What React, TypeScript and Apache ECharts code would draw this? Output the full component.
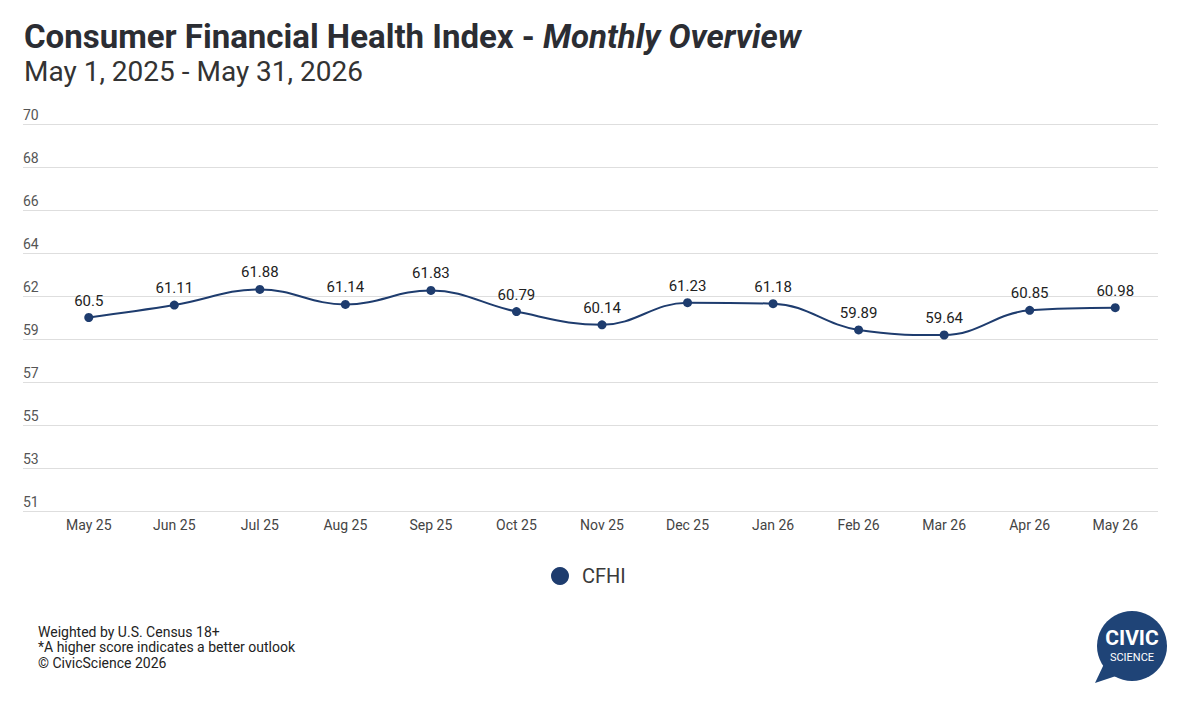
import React, { useEffect, useRef } from "react";
import * as echarts from "echarts";

const months = ["May 25", "Jun 25", "Jul 25", "Aug 25", "Sep 25", "Oct 25", "Nov 25", "Dec 25", "Jan 26", "Feb 26", "Mar 26", "Apr 26", "May 26"];
const cfhi = [60.5, 61.11, 61.88, 61.14, 61.83, 60.79, 60.14, 61.23, 61.18, 59.89, 59.64, 60.85, 60.98];
const yMin = 51;
const yMax = 70;
const yTickLabels = ["51", "53", "55", "57", "59", "62", "64", "66", "68", "70"];
const footnotes = ["Weighted by U.S. Census 18+", "*A higher score indicates a better outlook", "\u00A9 CivicScience 2026"];

const NAVY = "#1e3c6e";
const FONT = "Roboto";

export default function App() {
  const ref = useRef<HTMLDivElement>(null);
  useEffect(() => {
    if (!ref.current) return;
    const chart = echarts.init(ref.current, undefined, { renderer: "svg" });
    const gridTop = 124;
    const gridBottom = 212;
    chart.setOption({
      animation: false,
      backgroundColor: "#ffffff",
      textStyle: { fontFamily: FONT },
      title: [
        {
          left: 24,
          top: 20,
          padding: 0,
          text: "{a|Consumer Financial Health Index - }{b|Monthly Overview}",
          textStyle: {
            rich: {
              a: { fontFamily: FONT, fontWeight: "bold", fontSize: 33, color: "#2b2d33" },
              b: { fontFamily: FONT, fontWeight: "bold", fontStyle: "italic", fontSize: 33, color: "#2b2d33" },
            },
          },
        },
        {
          left: 24,
          top: 57,
          padding: 0,
          text: "May 1, 2025 - May 31, 2026",
          textStyle: { fontFamily: FONT, fontWeight: "normal", fontSize: 28, color: "#333333" },
        },
      ],
      legend: {
        data: ["CFHI"],
        left: 551,
        top: 566,
        padding: 0,
        icon: "circle",
        itemWidth: 18,
        itemHeight: 18,
        itemGap: 10,
        textStyle: { fontFamily: FONT, fontSize: 20, color: "#3a3a3a", padding: [0, 0, 0, 8] },
      },
      grid: [
        { left: 23, right: 42, top: gridTop, bottom: gridBottom },
        { left: 46, right: 42, top: gridTop, bottom: gridBottom },
      ],
      xAxis: [
        { gridIndex: 0, type: "value", min: 0, max: 1, show: false },
        {
          gridIndex: 1,
          type: "category",
          data: months,
          boundaryGap: true,
          axisLine: { show: false },
          axisTick: { show: false },
          axisLabel: { fontFamily: FONT, fontSize: 14, color: "#444444", margin: 7 },
        },
      ],
      yAxis: [
        {
          gridIndex: 0,
          type: "value",
          min: 0,
          max: yTickLabels.length - 1,
          interval: 1,
          axisLine: { show: false },
          axisTick: { show: false },
          splitLine: { show: true, lineStyle: { color: "#dedede", width: 1 } },
          axisLabel: {
            inside: true,
            margin: 0,
            verticalAlign: "bottom",
            padding: [0, 0, 2, 0],
            fontFamily: FONT,
            fontSize: 14,
            color: "#555555",
            formatter: (v: number) => yTickLabels[Math.round(v)] ?? "",
          },
        },
        { gridIndex: 1, type: "value", min: yMin, max: yMax, show: false, splitLine: { show: false } },
      ],
      series: [
        {
          name: "CFHI",
          type: "line",
          xAxisIndex: 1,
          yAxisIndex: 1,
          data: cfhi,
          smooth: 0.4,
          symbol: "circle",
          symbolSize: 9,
          itemStyle: { color: NAVY },
          lineStyle: { color: NAVY, width: 2 },
          label: {
            show: true,
            position: "top",
            distance: 5,
            fontFamily: FONT,
            fontSize: 15,
            color: "#222222",
          },
        },
      ],
      graphic: [
        {
          type: "text",
          x: 38,
          y: 624,
          style: {
            text: footnotes.join("\n"),
            font: `14px ${FONT}`,
            lineHeight: 15.5,
            fill: "#222222",
          },
        },
        {
          type: "polygon",
          shape: { points: [[1104, 664], [1095, 683], [1122, 674]] },
          style: { fill: "#1f4477" },
        },
        {
          type: "circle",
          shape: { cx: 1132, cy: 646, r: 35 },
          style: { fill: "#1f4477" },
        },
        {
          type: "text",
          x: 1132,
          y: 638,
          style: { text: "CIVIC", font: `bold 21px ${FONT}`, fill: "#ffffff", textAlign: "center", textVerticalAlign: "middle" },
        },
        {
          type: "text",
          x: 1132,
          y: 657,
          style: { text: "SCIENCE", font: `11px ${FONT}`, fill: "#ffffff", textAlign: "center", textVerticalAlign: "middle" },
        },
      ],
    });
    return () => chart.dispose();
  }, []);
  return <div ref={ref} style={{ width: 1200, height: 723, position: "absolute", left: 0, top: 0 }} />;
}
